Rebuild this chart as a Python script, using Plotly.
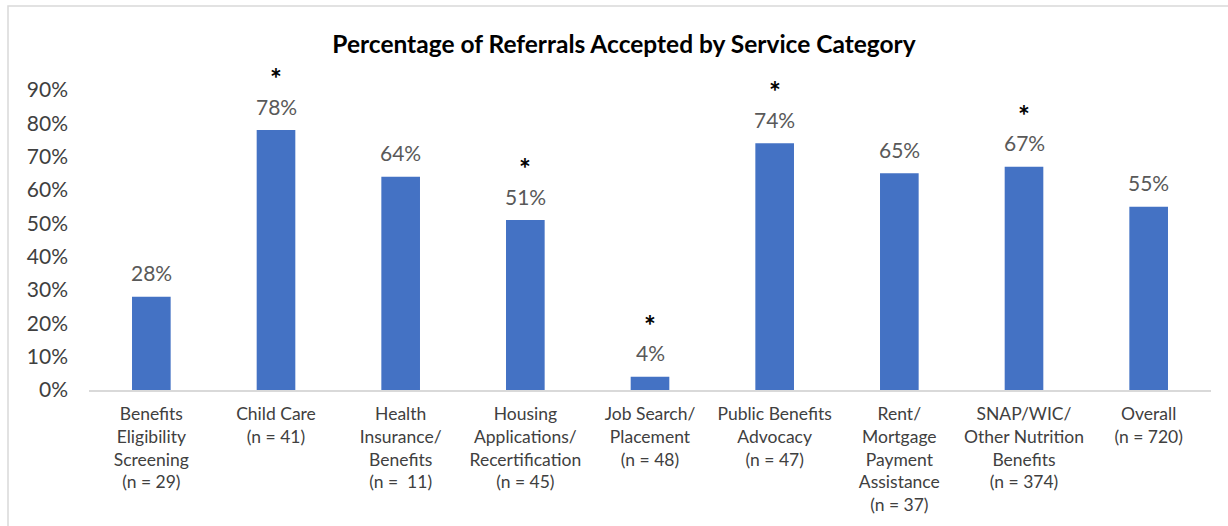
import plotly.graph_objects as go

categories = [
    "Benefits<br>Eligibility<br>Screening<br>(n = 29)",
    "Child Care<br>(n = 41)",
    "Health<br>Insurance/<br>Benefits<br>(n =  11)",
    "Housing<br>Applications/<br>Recertification<br>(n = 45)",
    "Job Search/<br>Placement<br>(n = 48)",
    "Public Benefits<br>Advocacy<br>(n = 47)",
    "Rent/<br>Mortgage<br>Payment<br>Assistance<br>(n = 37)",
    "SNAP/WIC/<br>Other Nutrition<br>Benefits<br>(n = 374)",
    "Overall<br>(n = 720)",
]
percent_accepted = [28, 78, 64, 51, 4, 74, 65, 67, 55]
significant = [False, True, False, True, True, True, False, True, False]

FONT = "Lato"
BAR_COLOR = "#4472C4"
xs = list(range(len(categories)))
ys = [v / 100 for v in percent_accepted]

fig = go.Figure(
    go.Bar(
        x=xs,
        y=ys,
        marker=dict(color=BAR_COLOR, line=dict(width=0)),
        width=0.31,
        hoverinfo="skip",
    )
)

annotations = []
for x, v, y, sig in zip(xs, percent_accepted, ys, significant):
    annotations.append(dict(
        x=x, y=y, xref="x", yref="y", text=f"{v}%", showarrow=False,
        yanchor="middle", yshift=24,
        font=dict(family=FONT, size=21, color="#595959"),
    ))
    if sig:
        annotations.append(dict(
            x=x, y=y, xref="x", yref="y", text="<b>*</b>", showarrow=False,
            yanchor="middle", yshift=52,
            font=dict(family=FONT, size=28, color="#000000"),
        ))

fig.update_layout(
    width=1228,
    height=526,
    margin=dict(l=89, r=17, t=90, b=136),
    paper_bgcolor="white",
    plot_bgcolor="white",
    showlegend=False,
    title=dict(
        text="<b>Percentage of Referrals Accepted by Service Category</b>",
        x=624 / 1228, xanchor="center", xref="container",
        y=1 - 44 / 526, yanchor="middle",
        font=dict(family=FONT, size=24.5, color="#000000"),
    ),
    xaxis=dict(
        tickmode="array",
        tickvals=xs,
        ticktext=categories,
        range=[-0.5, len(categories) - 0.5],
        showline=True,
        linecolor="#D9D9D9",
        linewidth=2,
        showgrid=False,
        zeroline=False,
        ticks="",
        tickfont=dict(family=FONT, size=17.5, color="#404040"),
        ticklabelstandoff=7,
        fixedrange=True,
    ),
    yaxis=dict(
        range=[0, 0.9],
        dtick=0.1,
        tickformat=".0%",
        showgrid=False,
        zeroline=False,
        showline=False,
        ticks="",
        tickfont=dict(family=FONT, size=21, color="#404040"),
        ticklabelstandoff=20,
        fixedrange=True,
    ),
    annotations=annotations,
    shapes=[
        dict(
            type="rect", xref="paper", yref="paper",
            x0=(8 - 89) / 1122, x1=(1240 - 89) / 1122,
            y0=(390 - 540) / 300, y1=(390 - 6) / 300,
            line=dict(color="#D9D9D9", width=1.5),
            fillcolor="rgba(0,0,0,0)",
            layer="below",
        )
    ],
)

fig.write_html("out.html", config={"displayModeBar": False})
